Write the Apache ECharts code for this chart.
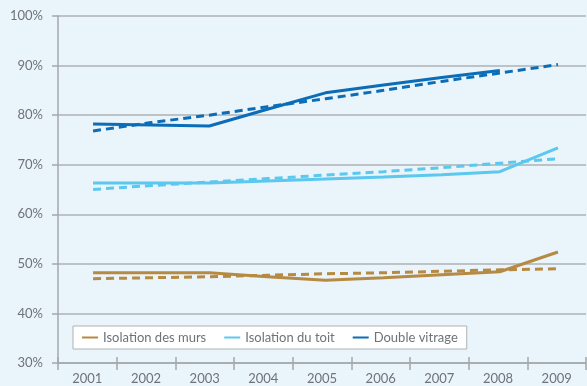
<!DOCTYPE html>
<html>
<head>
<meta charset="utf-8">
<script src="https://cdn.jsdelivr.net/npm/echarts@6/dist/echarts.min.js"></script>
<style>
html,body{margin:0;padding:0;background:#EAF4FB;}
#c{width:587px;height:386px;}
</style>
</head>
<body>
<div id="c"></div>
<script>
const years = ['2001','2002','2003','2004','2005','2006','2007','2008','2009'];
const yTicks = [30,40,50,60,70,80,90,100];
const mursActual = [48.2, 48.2, 48.2, 47.4, 46.7, 47.2, 47.8, 48.4, 52.4];
const mursTrend  = [47.0, 47.2, 47.4, 47.7, 48.0, 48.2, 48.5, 48.8, 49.0];
const toitActual = [66.3, 66.3, 66.3, 66.7, 67.1, 67.5, 68.0, 68.6, 73.4];
const toitTrend  = [65.0, 65.8, 66.5, 67.2, 67.9, 68.6, 69.4, 70.3, 71.2];
const vitrActual = [78.2, 78.0, 77.8, 81.2, 84.5, 86.1, 87.6, 89.0, null];
const vitrTrend  = [76.8, 78.5, 80.0, 81.7, 83.3, 85.0, 86.8, 88.5, 90.2];
const names = ['Isolation des murs','Isolation du toit','Double vitrage'];
const colors = ['#B68A42','#5BC8F0','#0B6DB7'];

const chart = echarts.init(document.getElementById('c'));
const font = 'Lato, "Open Sans", sans-serif';
function line(name, data, color, dashed, legendName){
  return {
    name: name, type:'line', data: data, xAxisIndex:1, yAxisIndex:1,
    symbol:'none', silent:true, connectNulls:false,
    lineStyle:{color:color, width:3, type: dashed ? [8,5] : 'solid', cap:'butt'},
    itemStyle:{color:color}, z: dashed ? 3 : 4
  };
}
chart.setOption({
  backgroundColor:'#EAF4FB',
  animation:false,
  textStyle:{fontFamily:font},
  grid:[
    {left:58, right:1, top:16, bottom:23, containLabel:false},
    {left:64, right:0, top:16, bottom:23, containLabel:false}
  ],
  xAxis:[
    {type:'category', gridIndex:0, data:years, boundaryGap:true,
     axisLine:{show:true, lineStyle:{color:'#A3A8AB', width:1.5}},
     axisTick:{show:true, length:7, lineStyle:{color:'#A3A8AB', width:1.5}, alignWithLabel:false},
     axisLabel:{color:'#6E7378', fontSize:13, fontFamily:font, margin:9},
     splitLine:{show:false}},
    {type:'category', gridIndex:1, data:years, boundaryGap:true, show:false},
    {type:'category', gridIndex:0, data:years, boundaryGap:true, position:'bottom',
     axisLine:{show:false}, axisLabel:{show:false},
     axisTick:{show:true, inside:true, length:6, lineStyle:{color:'#A3A8AB', width:1.5}}}
  ],
  yAxis:[
    {type:'value', gridIndex:0, min:30, max:100, interval:10,
     axisLine:{show:true, onZero:false, lineStyle:{color:'#A3A8AB', width:1.5}},
     axisTick:{show:true, length:6, lineStyle:{color:'#A3A8AB', width:1.5}},
     axisLabel:{color:'#6E7378', fontSize:13, fontFamily:font, margin:15,
       formatter:function(v){ return yTicks.indexOf(v)>=0 ? v+'%' : ''; }},
     splitLine:{show:true, lineStyle:{color:'#AEB2B4', width:1.5}}},
    {type:'value', gridIndex:1, min:30, max:100, interval:10, show:false}
  ],
  legend:{
    data: names, left:73, top:326, orient:'horizontal',
    backgroundColor:'#FFFFFF', borderColor:'#AEB2B4', borderWidth:1,
    padding:[5,9,5,9], itemGap:18, itemWidth:16, itemHeight:10,
    icon:'path://M0,4 L16,4 L16,6 L0,6 Z',
    textStyle:{color:'#6E7378', fontSize:13, fontFamily:font},
    selectedMode:false
  },
  series:[
    line(names[0], mursActual, colors[0], false),
    line(names[0]+' tendance', mursTrend, colors[0], true),
    line(names[1], toitActual, colors[1], false),
    line(names[1]+' tendance', toitTrend, colors[1], true),
    line(names[2], vitrActual, colors[2], false),
    line(names[2]+' tendance', vitrTrend, colors[2], true)
  ]
});
</script>
</body>
</html>
